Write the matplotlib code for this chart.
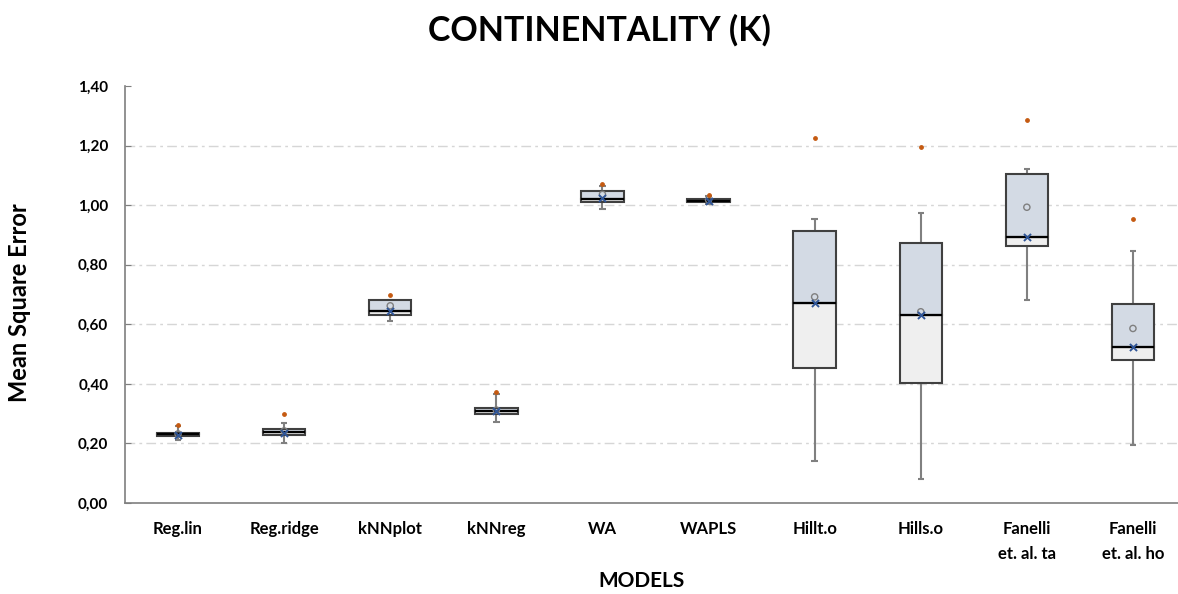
"""
Box plot of mean square error per model, continentality (K).
Two-tone boxes (Q1-median light grey, median-Q3 blue-grey), whiskers,
outlier dot, 'x' mean marker and hollow marker.
"""

import matplotlib

matplotlib.use("Agg")
import matplotlib.pyplot as plt
from matplotlib.ticker import FuncFormatter

# ---------- data ----------
MODELS = [
    "Reg.lin", "Reg.ridge", "kNNplot", "kNNreg", "WA", "WAPLS",
    "Hillt.o", "Hills.o", "Fanelli\net. al. ta", "Fanelli\net. al. ho",
]
Q1 = [0.226, 0.229, 0.631, 0.299, 1.012, 1.010, 0.452, 0.402, 0.863, 0.480]
MEDIAN = [0.231, 0.240, 0.645, 0.310, 1.020, 1.015, 0.672, 0.630, 0.894, 0.524]
Q3 = [0.236, 0.249, 0.680, 0.320, 1.047, 1.022, 0.912, 0.872, 1.103, 0.668]
WHISK_LO = [0.213, 0.202, 0.610, 0.273, 0.987, 1.004, 0.140, 0.080, 0.680, 0.195]
WHISK_HI = [0.258, 0.268, 0.680, 0.365, 1.063, 1.030, 0.953, 0.972, 1.123, 0.847]
OUTLIER = [0.262, 0.300, 0.700, 0.372, 1.071, 1.034, 1.224, 1.194, 1.286, 0.953]
MEAN_X = [0.229, 0.236, 0.645, 0.310, 1.023, 1.015, 0.672, 0.630, 0.894, 0.524]
HOLLOW = [0.232, 0.242, 0.662, 0.312, 1.036, 1.018, 0.692, 0.642, 0.993, 0.586]
Y_TICKS = [0.0, 0.2, 0.4, 0.6, 0.8, 1.0, 1.2, 1.4]

# ---------- style ----------
FONT = "Lato"
C_LOW = "#efefef"
C_HIGH = "#d3dae4"
C_EDGE = "#404040"
C_WHISK = "#808080"
C_OUT = "#c55a11"
C_MEAN = "#2f5597"
C_GRID = "#d6d6d6"
BOX_W = 0.40
CAP_W = 0.06

W_PX, H_PX = 1178, 594
AX_L, AX_R, AX_B, AX_T = 125, 1178, 503, 86

plt.rcParams["font.family"] = [FONT, "DejaVu Sans"]

fig = plt.figure(figsize=(W_PX / 100, H_PX / 100), dpi=100)
ax = fig.add_axes([
    AX_L / W_PX,
    (H_PX - AX_B) / H_PX,
    (AX_R - AX_L) / W_PX,
    (AX_B - AX_T) / H_PX,
])

x = list(range(len(MODELS)))

# grid
for yv in Y_TICKS[1:-1]:
    ax.axhline(yv, color=C_GRID, lw=1.0, ls=(0, (7, 3, 2, 3)), zorder=0)

# whiskers
ax.vlines(x, WHISK_LO, Q1, color=C_WHISK, lw=1.5, zorder=1)
ax.vlines(x, Q3, WHISK_HI, color=C_WHISK, lw=1.5, zorder=1)
ax.hlines(WHISK_LO, [i - CAP_W / 2 for i in x], [i + CAP_W / 2 for i in x], color=C_WHISK, lw=1.5, zorder=1)
ax.hlines(WHISK_HI, [i - CAP_W / 2 for i in x], [i + CAP_W / 2 for i in x], color=C_WHISK, lw=1.5, zorder=1)

# two-tone boxes
low_h = [m - q for m, q in zip(MEDIAN, Q1)]
high_h = [q - m for q, m in zip(Q3, MEDIAN)]
ax.bar(x, low_h, bottom=Q1, width=BOX_W, color=C_LOW, edgecolor=C_EDGE, linewidth=1.5, zorder=2)
ax.bar(x, high_h, bottom=MEDIAN, width=BOX_W, color=C_HIGH, edgecolor=C_EDGE, linewidth=1.5, zorder=2)
ax.hlines(MEDIAN, [i - BOX_W / 2 for i in x], [i + BOX_W / 2 for i in x], color="black", lw=1.6, zorder=3)

# markers
ax.scatter(x, HOLLOW, s=20, marker="o", facecolor="none", edgecolor="#7f7f7f", linewidth=1.0, zorder=4)
ax.scatter(x, MEAN_X, s=26, marker="x", color=C_MEAN, linewidth=1.4, zorder=5)
ax.scatter(x, OUTLIER, s=6, marker="o", color=C_OUT, zorder=5)

# axes
ax.set_xlim(-0.5, -0.5 + (AX_R - AX_L) / 106.1)
ax.set_ylim(0, 1.4)
ax.set_yticks(Y_TICKS)
ax.yaxis.set_major_formatter(FuncFormatter(lambda v, _: f"{v:.2f}".replace(".", ",")))
ax.set_xticks(x)
ax.set_xticklabels(MODELS, fontsize=12, fontweight="bold", linespacing=1.7)
ax.tick_params(axis="x", length=0, pad=13)
ax.tick_params(axis="y", direction="in", length=4, color="#7f7f7f", labelsize=11, pad=12)
for t in ax.get_yticklabels():
    t.set_fontweight("bold")
for t in ax.get_xticklabels():
    t.set_verticalalignment("top")
for side in ("top", "right"):
    ax.spines[side].set_visible(False)
for side in ("left", "bottom"):
    ax.spines[side].set_color("#7f7f7f")
    ax.spines[side].set_linewidth(1.2)

fig.text(599 / W_PX, 1 - 30 / H_PX, "CONTINENTALITY (K)", ha="center", va="center",
         fontsize=24.5, fontweight="bold")
fig.text(642 / W_PX, 1 - 581 / H_PX, "MODELS", ha="center", va="center",
         fontsize=15, fontweight="bold")
fig.text(20 / W_PX, 1 - 303 / H_PX, "Mean Square Error", ha="center", va="center",
         rotation=90, fontsize=17, fontweight="bold")

fig.savefig("out.png", dpi=100)
